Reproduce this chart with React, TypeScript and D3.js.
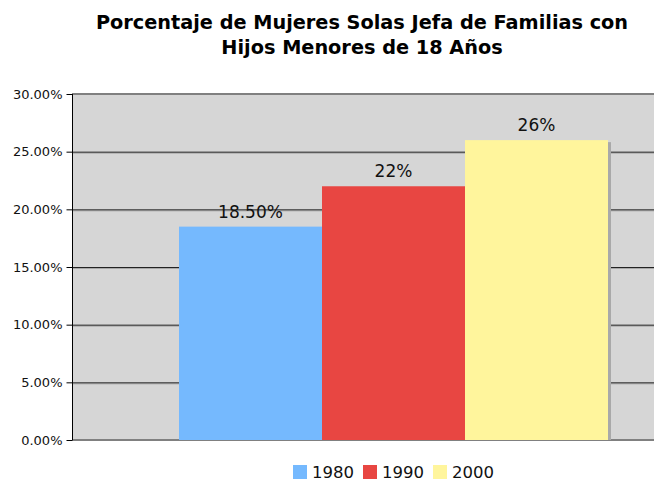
import React, { useEffect, useRef } from "react";
import * as d3 from "d3";

const years = ["1980", "1990", "2000"];
const values = [18.5, 22, 26];
const labels = ["18.50%", "22%", "26%"];
const colors = ["#75b9fe", "#e84642", "#fff59c"];
const yTicks = [0, 5, 10, 15, 20, 25, 30];

export default function App() {
  const ref = useRef<SVGSVGElement>(null);

  useEffect(() => {
    const svg = d3.select(ref.current);
    svg.selectAll("*").remove();

    const left = 72, right = 654, top = 94, bottom = 440;
    const font = "DejaVu Sans, Verdana, sans-serif";

    const y = d3.scaleLinear().domain([0, 30]).range([bottom, top]);
    const x = d3.scaleBand().domain(years).range([179, 608]).padding(0);

    // plot background
    svg.append("rect").attr("x", left).attr("y", top).attr("width", right - left).attr("height", bottom - top).attr("fill", "#d6d6d6");
    svg.append("line").attr("x1", left).attr("x2", right).attr("y1", top).attr("y2", top).attr("stroke", "#808080").attr("stroke-width", 2);
    svg.append("line").attr("x1", left).attr("x2", right).attr("y1", bottom).attr("y2", bottom).attr("stroke", "#808080").attr("stroke-width", 2);

    // gridlines
    const grid = svg.append("g");
    yTicks.filter(t => t > 0 && t < 30).forEach(t => {
      grid.append("line").attr("x1", left).attr("x2", right).attr("y1", y(t) + 1.5).attr("y2", y(t) + 1.5).attr("stroke", "#a8a8a8").attr("stroke-width", 1);
      grid.append("line").attr("x1", left).attr("x2", right).attr("y1", y(t) + 0.5).attr("y2", y(t) + 0.5).attr("stroke", "#222").attr("stroke-width", 1);
    });

    // bar shadow
    svg.append("rect")
      .attr("x", x("2000")! + 3).attr("y", y(26) + 2)
      .attr("width", x.bandwidth()).attr("height", bottom - y(26) - 2)
      .attr("fill", "#a9a9a9");

    svg.selectAll(".bar").data(values).join("rect")
      .attr("x", (d, i) => x(years[i])!)
      .attr("y", d => y(d))
      .attr("width", x.bandwidth())
      .attr("height", d => bottom - y(d))
      .attr("fill", (d, i) => colors[i]);

    svg.selectAll(".lbl").data(values).join("text")
      .attr("x", (d, i) => x(years[i])! + x.bandwidth() / 2)
      .attr("y", d => y(d) - 9)
      .attr("text-anchor", "middle")
      .attr("font-family", font).attr("font-size", 17).attr("fill", "#111")
      .text((d, i) => labels[i]);

    // y axis
    const axis = d3.axisLeft(y).tickValues(yTicks).tickSize(6).tickPadding(4).tickFormat(d => (d as number).toFixed(2) + "%");
    const ag = svg.append("g").attr("transform", `translate(${left + 0.5},0)`).call(axis);
    ag.select(".domain").attr("stroke", "#000").attr("d", `M0,${top}V${bottom}`);
    ag.selectAll(".tick line").attr("stroke", "#000");
    ag.selectAll("text").attr("font-family", font).attr("font-size", 13).attr("fill", "#111");

    // title
    const title = svg.append("text").attr("text-anchor", "middle").attr("font-family", font).attr("font-weight", "bold").attr("font-size", 19.3).attr("fill", "#000");
    title.append("tspan").attr("x", 362).attr("y", 29).text("Porcentaje de Mujeres Solas Jefa de Familias con");
    title.append("tspan").attr("x", 362).attr("y", 54).text("Hijos Menores de 18 Años");

    // legend
    const lx = [293, 363, 433];
    years.forEach((yr, i) => {
      svg.append("rect").attr("x", lx[i]).attr("y", 465).attr("width", 14).attr("height", 14).attr("fill", colors[i]);
      svg.append("text").attr("x", lx[i] + 19).attr("y", 478).attr("font-family", font).attr("font-size", 16.5).attr("fill", "#111").text(yr);
    });
  }, []);

  return (
    <svg ref={ref} width={654} height={482} style={{ position: "absolute", left: 0, top: 0, background: "#fff" }} />
  );
}
